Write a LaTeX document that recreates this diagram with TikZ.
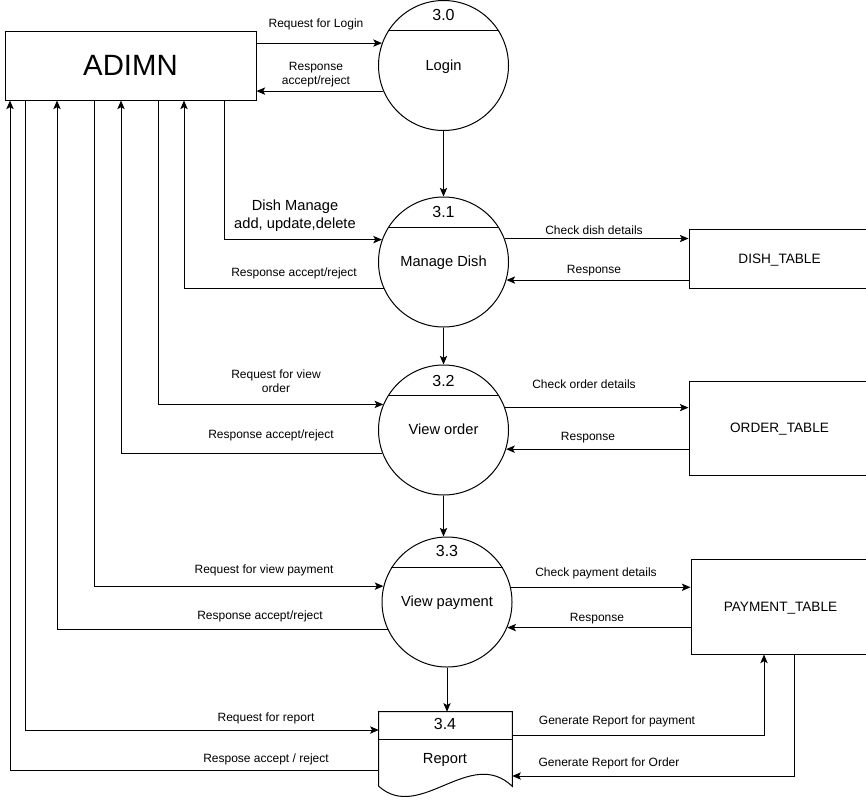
\documentclass[tikz,border=0pt]{standalone}
\usepackage{fontspec}
\setmainfont{Liberation Sans}
\usetikzlibrary{arrows.meta,positioning}
\tikzset{
  linebox/.style={text height=0.905em,text depth=0.212em},
  proc/.style={circle,draw,line width=0.75pt,minimum size=97.5pt,inner sep=0pt,linebox,font=\fontsize{11}{13}\selectfont},
  store/.style={rectangle,draw,line width=0.75pt,inner sep=0pt,linebox,font=\fontsize{10.2}{12}\selectfont},
  ent/.style={rectangle,draw,line width=0.75pt,inner sep=0pt,font=\fontsize{22}{26}\selectfont},
  num/.style={inner sep=0pt,linebox,font=\fontsize{12}{14}\selectfont},
  flowtext/.style={inner sep=0pt,align=center,font=\fontsize{9}{10.5}\selectfont},
  flow/.style={line width=0.75pt,-{Stealth[length=6.5pt,width=5.5pt,inset=1.5pt]}}
}
\newcommand{\procnode}{\node[proc]}
\newcommand{\storenode}{\node[store]}
\newcommand{\ftext}{\node[flowtext]}

\begin{document}
\begin{tikzpicture}[x=0.75pt,y=-0.75pt]
  \useasboundingbox (0,0) rectangle (866,800);
  \node[ent,minimum width=188.25pt,minimum height=51.75pt] (admin) at (130.5,65.5) {ADIMN}; %
  \procnode (p30) at (443.5,65.5) {Login}; %
  \procnode (p31) at (443.5,262) {Manage Dish}; %
  \procnode (p32) at (443.5,430) {View order}; %
  \procnode (p33) at (447,602) {View payment}; %
  \node[minimum width=99.75pt,minimum height=55.5pt,inner sep=0pt] (rep) at (445.5,749) {}; %
  \storenode[minimum width=135.75pt,minimum height=44.25pt] (dish) at (779.5,258.5) {DISH\_TABLE\hspace{5pt}};
  \storenode[minimum width=135.75pt,minimum height=70.5pt] (order) at (779.5,428) {ORDER\_TABLE\hspace{5pt}};
  \storenode[minimum width=134.25pt,minimum height=71.25pt] (pay) at (780.5,606.5) {PAYMENT\_TABLE\hspace{4pt}};
  \foreach \p in {p30,p31,p32,p33} \draw[line width=0.75pt] (\p.148) -- (\p.32);
  \node[num] (n30) at (443.5,16) {3.0};
  \node[num] (n31) at (443.5,213) {3.1};
  \node[num] (n32) at (443.5,382) {3.2};
  \node[num] (n33) at (447,552) {3.3};
  % report document
  \draw[line width=0.75pt] (rep.south west) -- (rep.north west) -- (rep.north east) -- (rep.south east)
    .. controls (470,746) and (420,823) .. (rep.south west);
  \draw[line width=0.75pt] (rep.west |- 0,739) -- (rep.east |- 0,739);
  \node[num] (n34) at (445,725) {3.4};
  \node[inner sep=0pt,linebox,font=\fontsize{11}{13}\selectfont] (reptext) at (445,759) {Report};
  % login
  \draw[flow] (admin.east |- p30.160) -- (p30.160);
  \draw[flow] (p30.203) -- (admin.east |- p30.203);
  \ftext (l1) at (316,24) {Request for Login};
  \ftext (l2) at (316,75) {Response\\accept/reject};
  % down the processes
  \draw[flow] (p30) -- (p31);
  \draw[flow] (p31) -- (p32);
  \draw[flow] (p32) -- (p32 |- p33.north);
  \draw[flow] (p33) -- (p33 |- rep.north);
  % admin to processes
  \draw[flow] (224,0 |- admin.south) |- (p31.160);
  \draw[flow] (p31.204) -| (184,0 |- admin.south);
  \draw[flow] (158,0 |- admin.south) |- (p32.157);
  \draw[flow] (p32.201) -| (121,0 |- admin.south);
  \draw[flow] (94,0 |- admin.south) |- (p33.166);
  \draw[flow] (p33.205) -| (57,0 |- admin.south);
  \draw[flow] (25,0 |- admin.south) |- (rep.west |- 0,730);
  \draw[flow] (rep.west |- 0,770) -| (10,0 |- admin.south);
  \node[inner sep=0pt,align=center,font=\fontsize{11}{13.5}\selectfont] (l3) at (295,216) {Dish Manage\\add, update,delete};
  \ftext (l4) at (294,273) {Response accept/reject};
  \ftext (l5) at (276,381) {Request for view\\order};
  \ftext (l6) at (271,435) {Response accept/reject};
  \ftext (l7) at (264,570) {Request for view payment};
  \ftext (l8) at (260,616) {Response accept/reject};
  \ftext (l9) at (266,718) {Request for report};
  \ftext (l10) at (266,759) {Respose accept / reject};
  % processes to tables
  \draw[flow] (p31.21) -- (dish.west |- p31.21);
  \draw[flow] (dish.west |- p31.344) -- (p31.344);
  \draw[flow] (p32.20) -- (order.west |- p32.20);
  \draw[flow] (order.west |- p32.343) -- (p32.343);
  \draw[flow] (p33.13) -- (pay.west |- p33.13);
  \draw[flow] (pay.west |- p33.337) -- (p33.337);
  \draw[flow] (rep.east |- 0,735) -| (764,0 |- pay.south);
  \draw[flow] (794,0 |- pay.south) |- (rep.east |- 0,776);
  \ftext (l11) at (594,230) {Check dish details};
  \ftext (l12) at (594,271) {Response};
  \ftext (l13) at (584,384) {Check order details};
  \ftext (l14) at (588,438) {Response};
  \ftext (l15) at (596,573) {Check payment details};
  \ftext (l16) at (597,619) {Response};
  \ftext (l17) at (617,721) {Generate Report for payment};
  \ftext (l18) at (609,763) {Generate Report for Order};
\end{tikzpicture}
\end{document}
